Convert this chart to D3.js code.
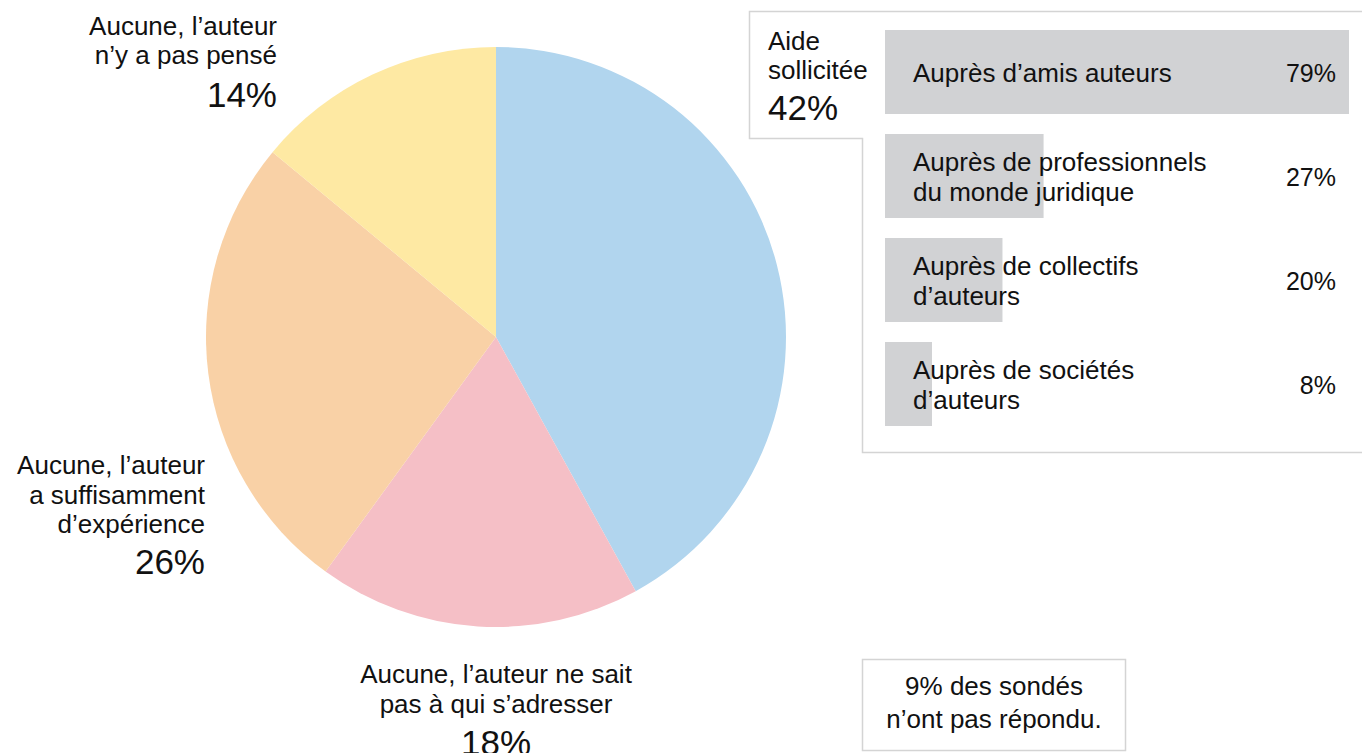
<!DOCTYPE html>
<html lang="fr">
<head>
<meta charset="utf-8">
<script src="https://cdn.jsdelivr.net/npm/d3@7"></script>
<style>
  html, body { margin: 0; padding: 0; background: #fff; }
  svg { display: block; font-family: "Liberation Sans", Arial, Helvetica, sans-serif; fill: #111; }
</style>
</head>
<body>
<svg id="chart" width="1362" height="753"></svg>
<script>
// Répartition des réponses (camembert), dans l'ordre horaire depuis midi
const pieKeys = ["aide", "neSaitPas", "experience", "pasPense"];
const pieValues = [42, 18, 26, 14];
const pieColors = ["#b1d5ee", "#f5bfc6", "#f9d1a6", "#fee9a3"];
const pieLabels = [
  ["Aide", "sollicitée"],
  ["Aucune, l’auteur ne sait", "pas à qui s’adresser"],
  ["Aucune, l’auteur", "a suffisamment", "d’expérience"],
  ["Aucune, l’auteur", "n’y a pas pensé"]
];

// Détail de l'aide sollicitée
const helpLabels = [
  ["Auprès d’amis auteurs"],
  ["Auprès de professionnels", "du monde juridique"],
  ["Auprès de collectifs", "d’auteurs"],
  ["Auprès de sociétés", "d’auteurs"]
];
const helpValues = [79, 27, 20, 8];

const noteLines = ["9% des sondés", "n’ont pas répondu."];

const svg = d3.select("#chart");
const pct = d => d + "%";

// ---- Camembert ----
const cx = 496, cy = 337, radius = 290;
const pie = d3.pie().sort(null).value(d => d.value);
const arcs = pie(pieKeys.map((k, i) => ({ key: k, value: pieValues[i], color: pieColors[i] })));
const arc = d3.arc().innerRadius(0).outerRadius(radius);

const gPie = svg.append("g").attr("transform", `translate(${cx},${cy})`);
gPie.selectAll("path")
  .data(arcs)
  .join("path")
  .attr("d", arc)
  .attr("fill", d => d.data.color);

// Étiquettes du camembert
function multiLine(g, lines, x, y, anchor, lh, size) {
  const t = g.append("text").attr("text-anchor", anchor).attr("font-size", size);
  lines.forEach((l, i) => t.append("tspan").attr("x", x).attr("y", y + i * lh).text(l));
  return t;
}
const labels = svg.append("g");
// n'y a pas pensé (en haut à gauche)
multiLine(labels, pieLabels[3], 277, 35, "end", 29, 26);
labels.append("text").attr("x", 277).attr("y", 107).attr("text-anchor", "end")
  .attr("font-size", 35).text(pct(pieValues[3]));
// expérience (à gauche)
multiLine(labels, pieLabels[2], 205, 474, "end", 29.5, 26);
labels.append("text").attr("x", 205).attr("y", 574).attr("text-anchor", "end")
  .attr("font-size", 35).text(pct(pieValues[2]));
// ne sait pas (en bas)
multiLine(labels, pieLabels[1], 496, 683, "middle", 29.5, 26);
labels.append("text").attr("x", 496).attr("y", 755).attr("text-anchor", "middle")
  .attr("font-size", 35).text(pct(pieValues[1]));

// ---- Encadré de l'aide sollicitée ----
const frame = svg.append("g");
frame.append("path")
  .attr("d", "M1370,11.5 H749.5 V138.5 H862.5 V452.5 H1370")
  .attr("fill", "none")
  .attr("stroke", "#d4d4d4")
  .attr("stroke-width", 1.5);

multiLine(frame, pieLabels[0], 768, 50, "start", 29, 26);
frame.append("text").attr("x", 768).attr("y", 120).attr("font-size", 35).text(pct(pieValues[0]));

const x = d3.scaleLinear().domain([0, d3.max(helpValues)]).range([885, 1349]);
const y = d3.scaleBand().domain(d3.range(helpValues.length)).range([30, 426]).paddingInner(20 / 104).paddingOuter(0);

const rows = frame.selectAll("g.row")
  .data(helpValues.map((v, i) => ({ v, i, lines: helpLabels[i] })))
  .join("g").attr("class", "row");

rows.append("rect")
  .attr("x", x(0))
  .attr("y", d => y(d.i))
  .attr("width", d => x(d.v) - x(0))
  .attr("height", y.bandwidth())
  .attr("fill", "#d1d2d4");

rows.each(function(d) {
  const g = d3.select(this);
  const mid = y(d.i) + y.bandwidth() / 2;
  const lh = 30;
  const first = mid + 10 - (d.lines.length - 1) * lh / 2;
  const t = g.append("text").attr("font-size", 26);
  d.lines.forEach((l, k) => t.append("tspan").attr("x", 913).attr("y", first + k * lh).text(l));
  g.append("text")
    .attr("x", 1336)
    .attr("y", mid + 10)
    .attr("text-anchor", "end")
    .attr("font-size", 25)
    .text(pct(d.v));
});

// ---- Note ----
const note = svg.append("g");
note.append("rect")
  .attr("x", 862.5).attr("y", 659.5).attr("width", 263).attr("height", 91)
  .attr("fill", "none").attr("stroke", "#d4d4d4").attr("stroke-width", 1.5);
multiLine(note, noteLines, 994, 695, "middle", 33, 26);
</script>
</body>
</html>
